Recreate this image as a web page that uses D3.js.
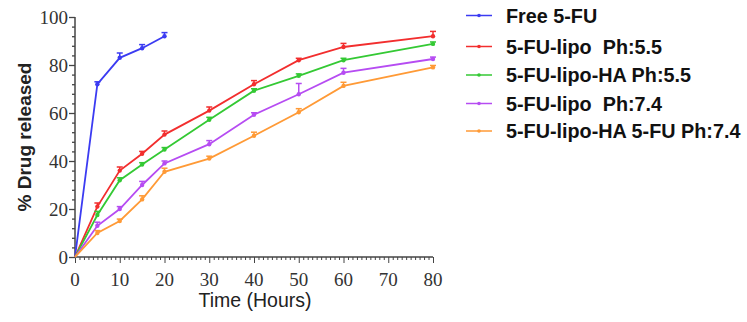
<!DOCTYPE html>
<html><head><meta charset="utf-8">
<script src="https://cdn.jsdelivr.net/npm/d3@7"></script>
<style>body{margin:0;background:#fff}svg{display:block}</style>
</head><body><svg id="c" width="747" height="322"></svg>
<script>
const seriesNames = ["Free 5-FU","5-FU-lipo  Ph:5.5","5-FU-lipo-HA Ph:5.5","5-FU-lipo  Ph:7.4","5-FU-lipo-HA 5-FU Ph:7.4"];
const colors = ["#3b3bf2","#f22e2e","#34c934","#b64cf2","#ff9a36"];
const timeFree = [0,5,10,15,20];
const timeLipo = [0,5,10,15,20,30,40,50,60,80];
const freeVals = [0,72,83,87,92];
const freeErr  = [0,1,2,1.5,1.5];
const lipo55Vals = [0,21,36,43,51,61,72,82,87.5,92];
const lipo55Err  = [0,1.5,1.5,1,1.5,1.5,1.5,0.8,1.5,2];
const ha55Vals = [0,17.5,32,38.5,44.8,57.2,69.3,75.5,82,88.8];
const ha55Err  = [0,1.5,1,0.8,0.8,1,0.8,0.8,0.8,0.8];
const lipo74Vals = [0,13,20,30,39,47,59.3,67.8,76.8,82.5];
const lipo74Err  = [0,1.5,1,1.5,1,1.5,0.8,4.5,1.8,0.8];
const ha74Vals = [0,10,15,24,35.5,41,50.5,60.3,71.3,79];
const ha74Err  = [0,1,0.8,1.5,1.5,1,1.5,1.5,1.5,0.8];
const xTicks = [0,10,20,30,40,50,60,70,80];
const yTicks = [0,20,40,60,80,100];

const series = [
  {t: timeFree, v: freeVals, e: freeErr},
  {t: timeLipo, v: lipo55Vals, e: lipo55Err},
  {t: timeLipo, v: ha55Vals, e: ha55Err},
  {t: timeLipo, v: lipo74Vals, e: lipo74Err},
  {t: timeLipo, v: ha74Vals, e: ha74Err}
];

const svg = d3.select("#c");
const x = d3.scaleLinear().domain([0,80]).range([75,433]);
const y = d3.scaleLinear().domain([0,100]).range([257,17]);
const axisColor = "#444";

// Y axis
const yAx = svg.append("g").attr("transform","translate(75,0)");
yAx.call(d3.axisLeft(y).tickValues(d3.range(0,101,4)).tickSize(3).tickFormat(""));
yAx.call(g=>g.selectAll(".tick").filter(d=>d%20===0).select("line").attr("x2",-6));
yAx.selectAll(".tick line").attr("stroke",axisColor).attr("stroke-width",1.3);
yAx.select(".domain").attr("stroke",axisColor).attr("stroke-width",1.5).attr("d","M0,"+y(0)+"V"+y(100));
yAx.selectAll(".ylab").data(yTicks).join("text")
  .attr("x",-7).attr("y",d=>y(d)).attr("dy","0.35em").attr("text-anchor","end")
  .attr("font-family","Liberation Serif, Times New Roman, serif").attr("font-size",19).attr("fill","#333").text(d=>d);

// X axis
const xAx = svg.append("g").attr("transform","translate(0,257)");
xAx.call(d3.axisBottom(x).tickValues(d3.range(0,81,1)).tickSize(3).tickFormat(""));
xAx.call(g=>g.selectAll(".tick").filter(d=>d%10===0).select("line").attr("y2",6));
xAx.selectAll(".tick line").attr("stroke",axisColor).attr("stroke-width",1);
xAx.select(".domain").attr("stroke",axisColor).attr("stroke-width",1.5).attr("d","M"+x(0)+",0H"+x(80));
xAx.selectAll(".xlab").data(xTicks).join("text")
  .attr("x",d=>x(d)).attr("y",28.5).attr("text-anchor","middle")
  .attr("font-family","Liberation Serif, Times New Roman, serif").attr("font-size",19).attr("fill","#333").text(d=>d);

// Titles
svg.append("text").attr("transform","translate(31,137) rotate(-90)").attr("text-anchor","middle")
  .attr("font-family","Liberation Sans, Arial, sans-serif").attr("font-weight","bold").attr("font-size",19)
  .attr("fill","#222").text("% Drug released");
svg.append("text").attr("x",255).attr("y",307).attr("text-anchor","middle")
  .attr("font-family","Liberation Sans, Arial, sans-serif").attr("font-size",19.5)
  .attr("fill","#222").text("Time (Hours)");

// Series
const line = d3.line();
series.forEach((s,i)=>{
  const c = colors[i];
  const pts = s.t.map((t,j)=>[x(t),y(s.v[j])]);
  const g = svg.append("g");
  g.append("path").attr("d",line(pts)).attr("fill","none").attr("stroke",c).attr("stroke-width",1.8);
  s.t.forEach((t,j)=>{
    if (s.e[j]>0){
      const top = y(s.v[j]+s.e[j]);
      g.append("line").attr("x1",x(t)).attr("x2",x(t)).attr("y1",y(s.v[j])).attr("y2",top).attr("stroke",c).attr("stroke-width",1.5);
      g.append("line").attr("x1",x(t)-3).attr("x2",x(t)+3).attr("y1",top).attr("y2",top).attr("stroke",c).attr("stroke-width",1.5);
    }
    if (t>0) g.append("circle").attr("cx",x(t)).attr("cy",y(s.v[j])).attr("r",2.2).attr("fill",c);
  });
});

// Legend
const legY = [15.5,46.5,75,103.5,131];
const leg = svg.append("g");
seriesNames.forEach((n,i)=>{
  leg.append("line").attr("x1",466).attr("x2",492).attr("y1",legY[i]).attr("y2",legY[i]).attr("stroke",colors[i]).attr("stroke-width",1.5);
  leg.append("circle").attr("cx",479).attr("cy",legY[i]).attr("r",1.8).attr("fill",colors[i]);
  leg.append("text").attr("x",506).attr("y",legY[i]).attr("dy","0.36em")
    .attr("font-family","Liberation Sans, Arial, sans-serif").attr("font-weight","bold").attr("font-size",19.8)
    .attr("fill","#111").style("white-space","pre").text(n);
});
</script></body></html>
